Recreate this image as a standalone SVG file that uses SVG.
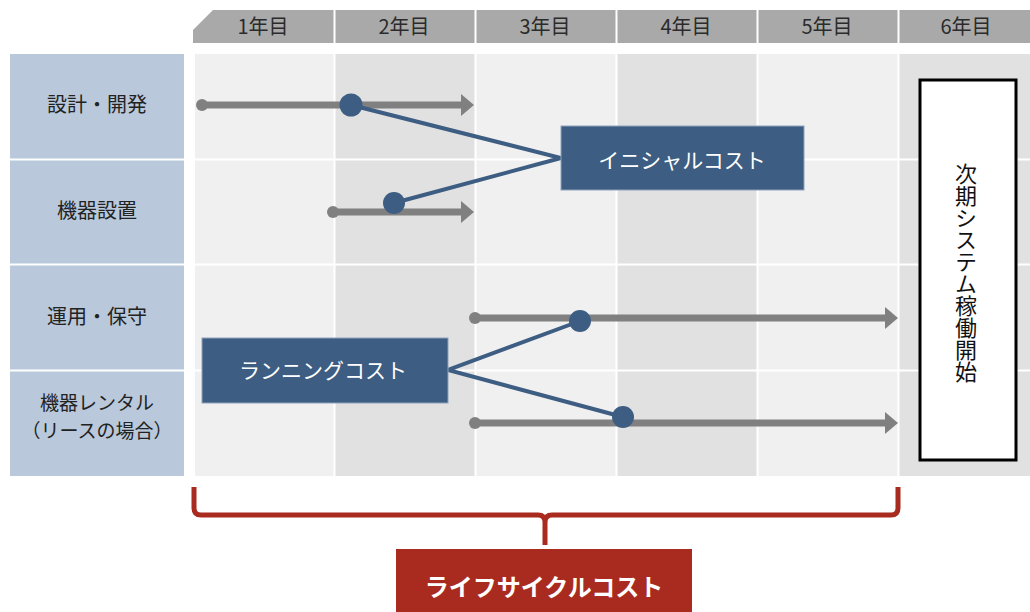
<svg xmlns="http://www.w3.org/2000/svg" width="1030" height="612" viewBox="0 0 1030 612">
<defs>
<style>
text{font-family:"Noto Sans CJK JP","Noto Sans",sans-serif;}
.hdr{fill:#a9a9a9;}
.htxt{font-size:20px;fill:#2b2b2b;text-anchor:middle;}
.lbl{fill:#b9c8da;}
.ltxt{font-size:20px;fill:#222;text-anchor:middle;}
.sep{stroke:#ffffff;stroke-width:2;}
.gline{stroke:#808080;stroke-width:7;}
.ghead{fill:#808080;}
.gdot{fill:#808080;}
.bline{stroke:#3d5d82;stroke-width:4;fill:none;}
.bdot{fill:#3d5d82;}
.bbox{fill:#3d5d82;stroke:#8fa3bb;stroke-width:1;}
.btxt{font-size:21px;fill:#fff;text-anchor:middle;}
</style>
</defs>
<rect width="1030" height="612" fill="#ffffff"/>

<g id="header">
<polygon class="hdr" points="193,43 193,30 213,10 1030,10 1030,43"/>
<line class="sep" x1="334.5" y1="10" x2="334.5" y2="43"/>
<line class="sep" x1="475.5" y1="10" x2="475.5" y2="43"/>
<line class="sep" x1="616.5" y1="10" x2="616.5" y2="43"/>
<line class="sep" x1="757.5" y1="10" x2="757.5" y2="43"/>
<line class="sep" x1="898.5" y1="10" x2="898.5" y2="43"/>
<text class="htxt" x="263" y="34">1年目</text>
<text class="htxt" x="404" y="34">2年目</text>
<text class="htxt" x="545" y="34">3年目</text>
<text class="htxt" x="686" y="34">4年目</text>
<text class="htxt" x="827" y="34">5年目</text>
<text class="htxt" x="966" y="34">6年目</text>
</g>

<g id="grid">
<rect x="195" y="54" width="140" height="422" fill="#f0f0f0"/>
<rect x="335" y="54" width="141" height="422" fill="#e1e1e1"/>
<rect x="476" y="54" width="141" height="422" fill="#f0f0f0"/>
<rect x="617" y="54" width="141" height="422" fill="#e1e1e1"/>
<rect x="758" y="54" width="141" height="422" fill="#f0f0f0"/>
<rect x="899" y="54" width="131" height="422" fill="#e1e1e1"/>
<line class="sep" x1="195" y1="159.5" x2="1030" y2="159.5"/>
<line class="sep" x1="195" y1="264.5" x2="1030" y2="264.5"/>
<line class="sep" x1="195" y1="370.5" x2="1030" y2="370.5"/>
<line class="sep" x1="334.5" y1="54" x2="334.5" y2="476"/>
<line class="sep" x1="475.5" y1="54" x2="475.5" y2="476"/>
<line class="sep" x1="616.5" y1="54" x2="616.5" y2="476"/>
<line class="sep" x1="757.5" y1="54" x2="757.5" y2="476"/>
<line class="sep" x1="898.5" y1="54" x2="898.5" y2="476"/>
</g>

<g id="row-labels">
<rect class="lbl" x="10" y="54" width="174" height="422"/>
<line class="sep" x1="10" y1="159.5" x2="184" y2="159.5"/>
<line class="sep" x1="10" y1="264.5" x2="184" y2="264.5"/>
<line class="sep" x1="10" y1="370.5" x2="184" y2="370.5"/>
<text class="ltxt" x="97" y="112">設計・開発</text>
<text class="ltxt" x="97" y="218">機器設置</text>
<text class="ltxt" x="97" y="324">運用・保守</text>
<text class="ltxt" x="97" y="410" font-size="19" style="font-size:19px">機器レンタル</text>
<text class="ltxt" x="97" y="438" font-size="19" style="font-size:19px">（リースの場合）</text>
</g>

<g id="connectors">
<line class="gline" x1="202" y1="105" x2="463" y2="105"/>
<polygon class="ghead" points="461,94 474,105 461,116"/>
<circle class="gdot" cx="202" cy="105" r="6"/>
<line class="gline" x1="333" y1="212" x2="463" y2="212"/>
<polygon class="ghead" points="461,201 474,212 461,223"/>
<circle class="gdot" cx="333" cy="212" r="6"/>
<line class="gline" x1="475" y1="318" x2="887" y2="318"/>
<polygon class="ghead" points="885,307 898,318 885,329"/>
<circle class="gdot" cx="475" cy="318" r="6"/>
<line class="gline" x1="475" y1="423" x2="887" y2="423"/>
<polygon class="ghead" points="885,412 898,423 885,434"/>
<circle class="gdot" cx="475" cy="423" r="6"/>
<polyline class="bline" points="351,105 561,158 394,203"/>
<polyline class="bline" points="580,321 448,370 623,417"/>
<circle class="bdot" cx="351" cy="105" r="11.5"/>
<circle class="bdot" cx="394" cy="203" r="11"/>
<circle class="bdot" cx="580" cy="321" r="11"/>
<circle class="bdot" cx="623" cy="417" r="11"/>
</g>

<g id="initial-cost">
<rect class="bbox" x="561" y="126" width="243" height="64"/>
<text class="btxt" x="682" y="168">イニシャルコスト</text>
</g>

<g id="running-cost">
<rect class="bbox" x="202" y="338" width="246" height="65"/>
<text class="btxt" x="323" y="378">ランニングコスト</text>
</g>

<g id="next-system">
<rect x="920" y="80" width="96" height="380" fill="#ffffff" stroke="#000" stroke-width="3"/>
<text x="966" y="273" font-size="22" fill="#111" text-anchor="middle" writing-mode="vertical-rl" style="writing-mode:vertical-rl">次期システム稼働開始</text>
</g>

<g id="lifecycle">
<path d="M194,487 L194,508 Q194,515 201,515 L538,515 Q545,515 545,522 L545,545 M545,545 L545,522 Q545,515 552,515 L891,515 Q898,515 898,508 L898,487" fill="none" stroke="#a92b1f" stroke-width="5" stroke-linejoin="round"/>
<rect x="396" y="549" width="296" height="70" fill="#a92b1f"/>
<text x="544" y="596" font-size="24" font-weight="bold" fill="#fff" text-anchor="middle">ライフサイクルコスト</text>
</g>
</svg>
